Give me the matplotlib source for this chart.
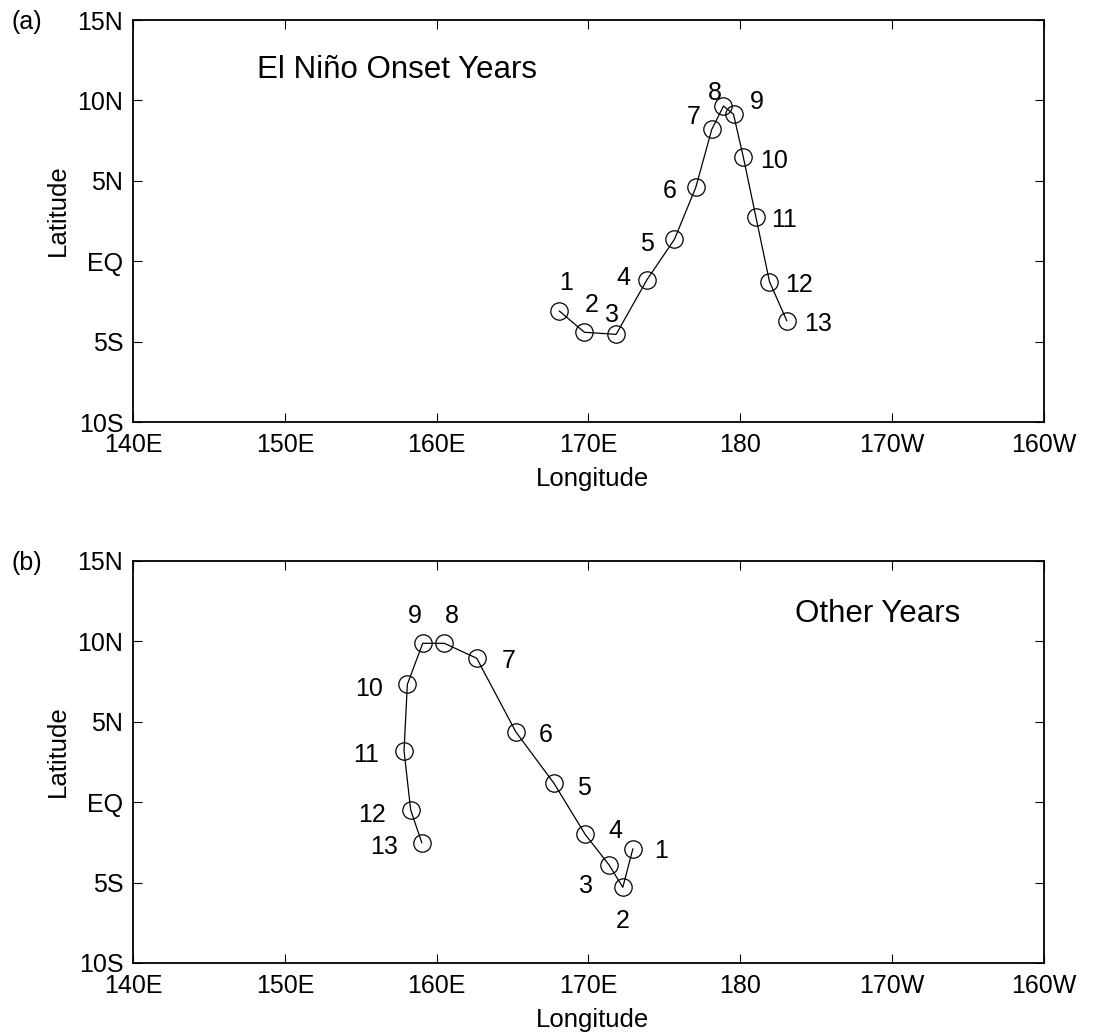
import matplotlib
matplotlib.use("Agg")
import matplotlib.pyplot as plt

plt.rcParams['font.family'] = ['Liberation Sans', 'DejaVu Sans']

# ---- data ----
lon_ticks = [140, 150, 160, 170, 180, 190, 200]
lon_labels = ['140E', '150E', '160E', '170E', '180', '170W', '160W']
lat_ticks = [-10, -5, 0, 5, 10, 15]
lat_labels = ['10S', '5S', 'EQ', '5N', '10N', '15N']

month_labels = ['1', '2', '3', '4', '5', '6', '7', '8', '9', '10', '11', '12', '13']

# (a) El Nino onset years
lon_a = [168.08, 169.73, 171.82, 173.84, 175.66, 177.07, 178.12, 178.89, 179.55,
         180.20, 181.02, 181.92, 183.06]
lat_a = [-3.10, -4.42, -4.55, -1.17, 1.36, 4.60, 8.20, 9.65, 9.14,
         6.46, 2.77, -1.27, -3.70]

# (b) Other years
lon_b = [172.92, 172.26, 171.36, 169.78, 167.73, 165.21, 162.64, 160.51, 159.08,
         158.07, 157.85, 158.29, 159.02]
lat_b = [-2.91, -5.29, -3.91, -2.00, 1.17, 4.38, 8.95, 9.88, 9.88,
         7.33, 3.20, -0.49, -2.52]

# label offsets (pixels, x right, y down) -- layout only
off_a = [(7, -31), (7, -30), (-4, -22), (-23, -5), (-27, 2), (-26, 1), (-18, -15),
         (-9, -16), (23, -15), (31, 1), (28, 1), (30, 1), (31, 1)]
off_b = [(28, 0), (0, 31), (-23, 18), (30, -6), (30, 2), (30, 1), (32, 0),
         (7, -30), (-8, -30), (-38, 2), (-38, 2), (-39, 2), (-38, 2)]

DPI = 100
fig = plt.figure(figsize=(10.94, 10.36), dpi=DPI)

W, H = 1094, 1036
left_px, right_px = 133, 1044
panels = [
    dict(top=20, bot=422, lon=lon_a, lat=lat_a, off=off_a, tag='(a)',
         title='El Niño Onset Years', tx=257, tbase=78),
    dict(top=561, bot=963, lon=lon_b, lat=lat_b, off=off_b, tag='(b)',
         title='Other Years', tx=795, tbase=622),
]

for p in panels:
    ax = fig.add_axes([left_px / W, (H - p['bot']) / H,
                       (right_px - left_px) / W, (p['bot'] - p['top']) / H])
    ax.plot(p['lon'], p['lat'], '-', color='black', lw=0.9,
            marker='o', ms=12.5, mfc='none', mec='black', mew=0.9)
    for lo, la, t, (dx, dy) in zip(p['lon'], p['lat'], month_labels, p['off']):
        ax.annotate(t, (lo, la), xytext=(dx * 72 / DPI, -dy * 72 / DPI),
                    textcoords='offset points', ha='center', va='center_baseline',
                    fontsize=18)
    ax.set_xlim(140, 200)
    ax.set_ylim(-10, 15)
    ax.set_xticks(lon_ticks)
    ax.set_xticklabels(lon_labels)
    ax.set_yticks(lat_ticks)
    ax.set_yticklabels(lat_labels)
    ax.tick_params(direction='in', length=6.5, width=0.8, labelsize=18,
                   top=True, right=True)
    ax.tick_params(axis='x', pad=8)
    ax.tick_params(axis='y', pad=7)
    for s in ax.spines.values():
        s.set_linewidth(1.3)
    ax.set_xlabel('Longitude', fontsize=18.5, va='center')
    ax.xaxis.set_label_coords(0.504, -0.142)
    ax.set_ylabel('Latitude', fontsize=18.5, va='center')
    ax.yaxis.set_label_coords(-0.083, 0.527)
    ax.text((p['tx'] - left_px) / (right_px - left_px),
            (p['bot'] - p['tbase']) / (p['bot'] - p['top']),
            p['title'], transform=ax.transAxes, fontsize=22.5,
            ha='left', va='baseline')
    fig.text(27 / W, 1 - (p['top'] + 2) / H, p['tag'], fontsize=18,
             ha='center', va='center')

fig.savefig('out.png', dpi=DPI)
